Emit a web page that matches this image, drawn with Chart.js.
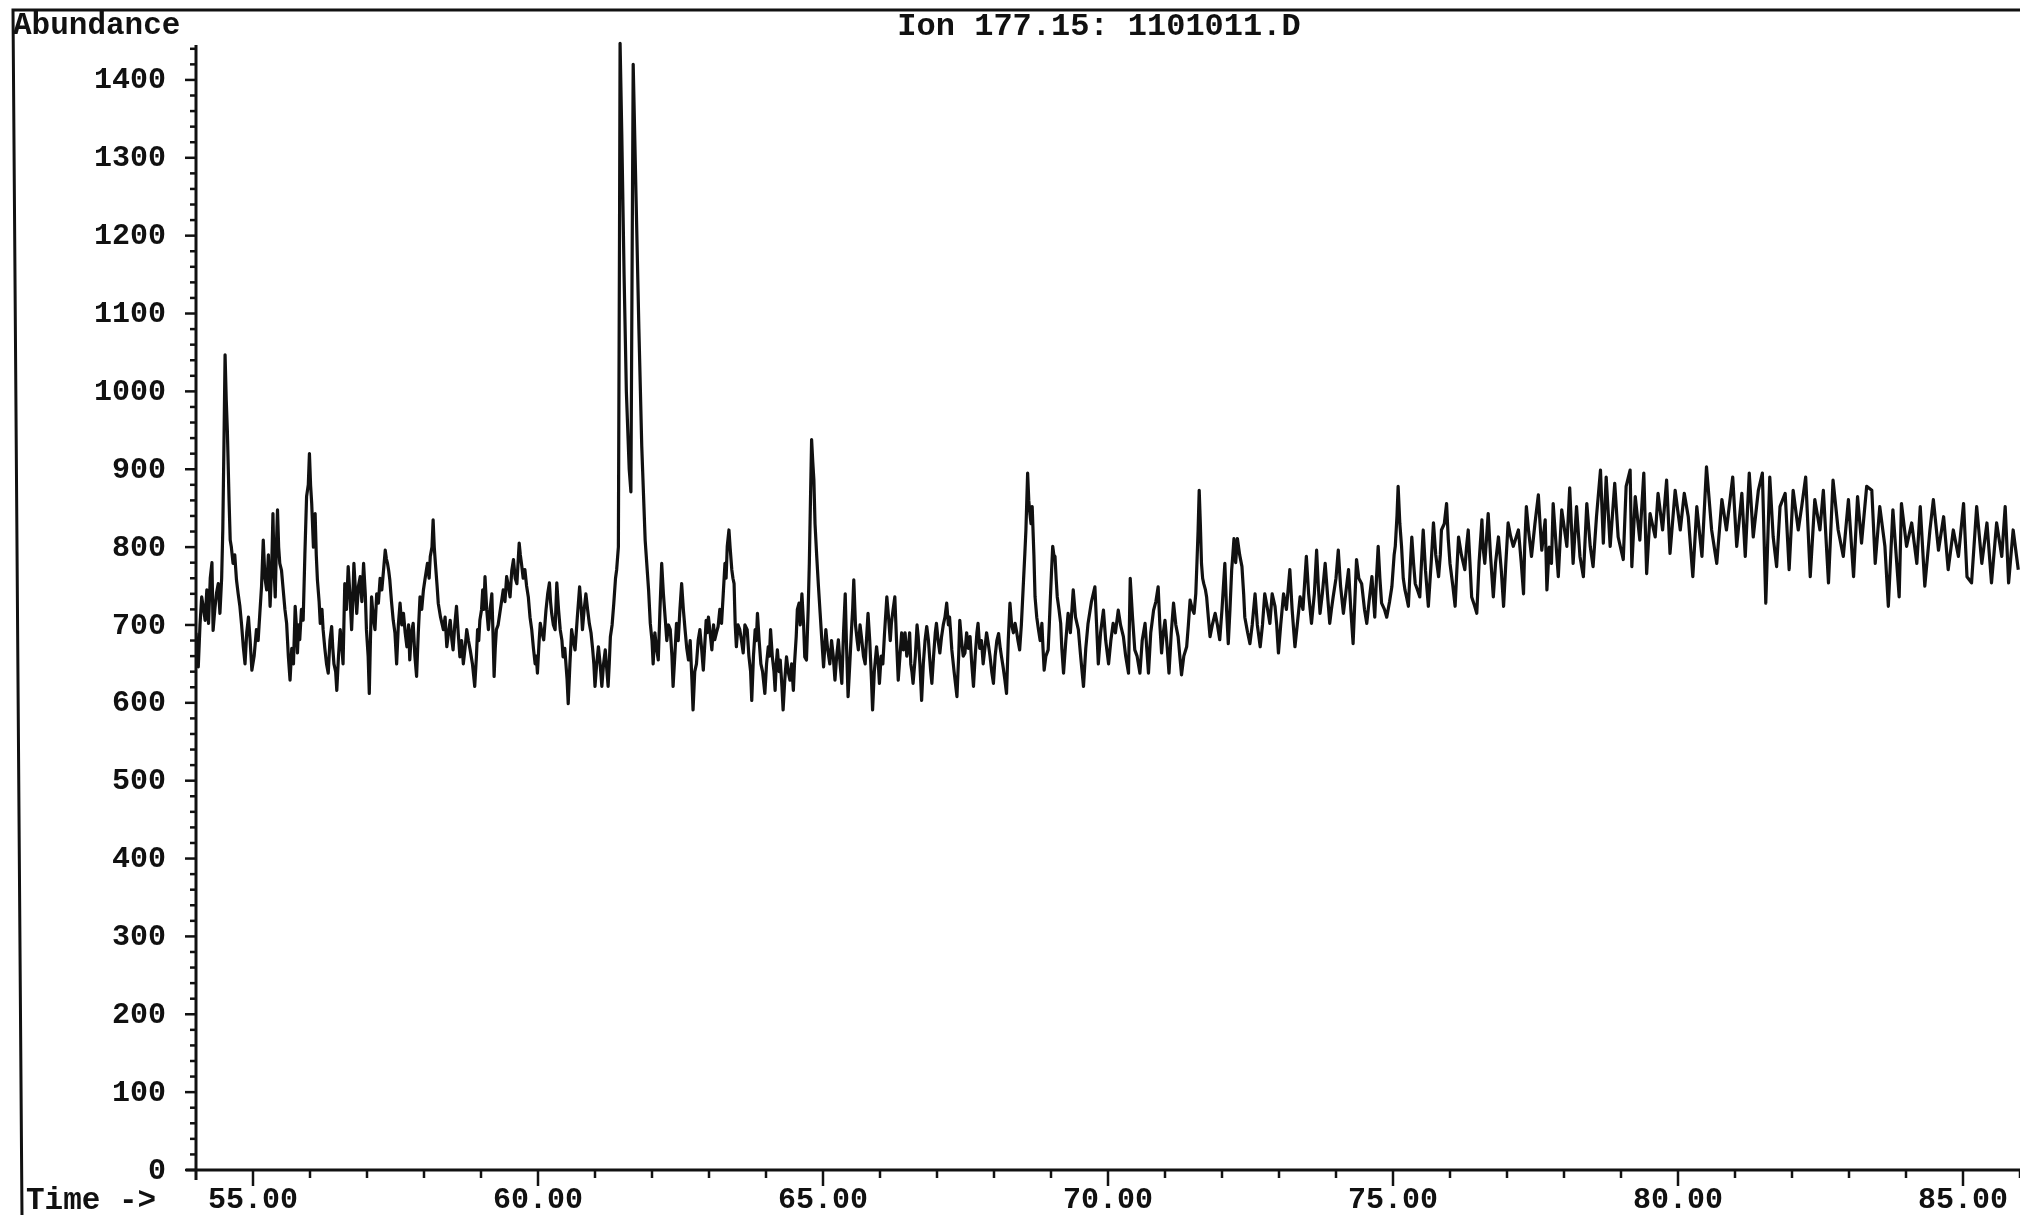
<!DOCTYPE html>
<html>
<head>
<meta charset="utf-8">
<script src="https://cdn.jsdelivr.net/npm/chart.js@4.4.1/dist/chart.umd.min.js"></script>
<style>
  html, body { margin: 0; padding: 0; background: #ffffff; }
  #wrap { width: 2020px; height: 1215px; position: relative; }
</style>
</head>
<body>
<div id="wrap"><canvas id="ionChart"></canvas></div>
<script>
// trace of ion 177.15, [time (min), abundance]
const trace54to58 = [
  [54.00,690],[54.04,646],[54.07,700],[54.10,736],[54.13,722],[54.16,706],[54.19,745],[54.22,702],[54.25,760],[54.28,780],
  [54.30,693],[54.33,720],[54.36,741],[54.39,753],[54.42,715],[54.45,760],[54.47,822],[54.49,930],[54.51,1047],[54.53,990],
  [54.55,950],[54.58,860],[54.60,809],[54.62,800],[54.65,779],[54.68,790],[54.71,758],[54.74,740],[54.77,724],[54.80,700],
  [54.83,672],[54.86,650],[54.89,690],[54.92,710],[54.95,680],[54.98,642],[55.02,660],[55.06,694],[55.09,680],[55.12,715],
  [55.15,750],[55.18,809],[55.21,760],[55.24,745],[55.27,790],[55.30,724],[55.33,780],[55.35,843],[55.37,770],[55.39,736],
  [55.41,800],[55.43,848],[55.45,800],[55.47,779],[55.50,770],[55.53,745],[55.56,720],[55.59,702],[55.62,660],[55.65,629],
  [55.68,670],[55.71,650],[55.74,724],[55.76,700],[55.78,664],[55.80,700],[55.82,681],[55.85,720],[55.88,706],[55.91,790],
  [55.94,865],[55.97,880],[55.99,920],[56.01,880],[56.03,856],[56.06,800],[56.09,843],[56.11,790],[56.13,758],[56.16,730],
  [56.18,702],[56.21,720],[56.23,694],[56.26,670],[56.29,650],[56.32,638],[56.35,680],[56.38,698],[56.40,670],[56.42,650],
  [56.45,640],[56.47,616],[56.50,660],[56.53,694],[56.56,670],[56.58,650],[56.61,753],[56.64,720],[56.67,775],[56.70,740],
  [56.73,694],[56.75,730],[56.77,779],[56.80,740],[56.82,715],[56.85,750],[56.88,762],[56.91,730],[56.94,779],[56.97,740],
  [56.99,694],[57.02,660],[57.04,612],[57.06,680],[57.08,736],[57.11,710],[57.14,694],[57.17,740],[57.20,728],[57.23,760],
  [57.26,745],[57.29,770],[57.32,796],[57.34,785],[57.36,779],[57.38,770],[57.40,758],[57.43,730],[57.46,706],[57.49,690],
  [57.52,650],[57.55,700],[57.58,728],[57.61,700],[57.64,715],[57.67,690],[57.70,672],[57.73,700],[57.75,655],[57.78,690],
  [57.81,702],[57.84,660],[57.87,634],[57.90,690],[57.93,736],[57.96,720],[57.99,745]
];
const trace58to62 = [
  [58.02,760],[58.06,779],[58.09,760],[58.11,788],[58.14,800],[58.16,835],[58.18,800],[58.20,779],[58.23,750],[58.25,728],
  [58.29,710],[58.34,694],[58.37,710],[58.40,672],[58.43,690],[58.46,706],[58.49,680],[58.51,668],[58.54,700],[58.57,724],
  [58.60,690],[58.63,659],[58.66,680],[58.69,650],[58.72,670],[58.75,694],[58.78,680],[58.81,668],[58.85,650],[58.89,621],
  [58.92,660],[58.94,694],[58.96,680],[58.98,706],[59.01,720],[59.03,745],[59.05,720],[59.07,762],[59.10,720],[59.13,694],
  [59.16,720],[59.19,740],[59.21,690],[59.23,634],[59.25,670],[59.27,694],[59.30,700],[59.33,715],[59.36,730],[59.39,745],
  [59.42,730],[59.45,762],[59.48,750],[59.51,736],[59.54,770],[59.57,784],[59.60,760],[59.63,753],[59.65,780],[59.67,805],
  [59.69,790],[59.71,779],[59.74,760],[59.77,771],[59.80,750],[59.83,736],[59.86,710],[59.89,694],[59.92,670],[59.95,650],
  [59.97,660],[59.99,638],[60.02,680],[60.04,702],[60.07,690],[60.10,681],[60.12,700],[60.14,719],[60.17,740],[60.20,754],
  [60.22,730],[60.24,715],[60.27,700],[60.30,694],[60.33,754],[60.36,720],[60.39,694],[60.42,680],[60.44,659],[60.47,670],
  [60.49,650],[60.51,630],[60.53,599],[60.56,650],[60.59,694],[60.62,680],[60.65,668],[60.69,710],[60.73,749],[60.76,720],
  [60.78,694],[60.81,720],[60.84,740],[60.87,720],[60.90,702],[60.93,690],[60.96,668],[60.98,650],[61.00,621],[61.03,650],
  [61.06,672],[61.09,650],[61.12,621],[61.15,650],[61.18,668],[61.21,640],[61.23,621],[61.25,650],[61.27,685],[61.30,700],
  [61.33,728],[61.36,760],[61.38,771],[61.41,800],[61.43,1200],[61.44,1447],[61.47,1330],[61.51,1150],[61.55,1000],[61.60,900],
  [61.63,871],[61.65,1150],[61.67,1420],[61.72,1250],[61.77,1080],[61.82,930],[61.88,809],[61.94,745],[61.97,702]
];
const trace62to66 = [
  [62.00,680],[62.02,650],[62.05,690],[62.08,670],[62.11,655],[62.14,720],[62.17,779],[62.20,740],[62.23,710],[62.26,680],
  [62.29,700],[62.32,694],[62.35,660],[62.37,621],[62.40,660],[62.43,702],[62.46,680],[62.49,720],[62.52,753],[62.55,720],
  [62.58,694],[62.61,670],[62.64,655],[62.67,680],[62.70,630],[62.72,591],[62.75,640],[62.78,650],[62.81,680],[62.84,694],
  [62.87,670],[62.90,642],[62.93,680],[62.95,706],[62.97,690],[62.99,710],[63.02,690],[63.05,668],[63.08,700],[63.10,681],
  [63.13,690],[63.16,698],[63.19,720],[63.22,702],[63.25,740],[63.28,779],[63.30,760],[63.32,801],[63.35,822],[63.37,800],
  [63.40,771],[63.42,760],[63.44,753],[63.46,700],[63.48,672],[63.51,700],[63.54,694],[63.57,680],[63.60,664],[63.63,700],
  [63.67,694],[63.70,660],[63.73,640],[63.75,603],[63.78,660],[63.81,694],[63.83,680],[63.85,715],[63.88,680],[63.91,650],
  [63.94,640],[63.98,612],[64.01,650],[64.04,672],[64.06,660],[64.08,694],[64.11,660],[64.14,640],[64.16,616],[64.18,650],
  [64.20,668],[64.23,640],[64.25,655],[64.28,620],[64.30,591],[64.33,630],[64.36,659],[64.39,640],[64.42,629],[64.45,650],
  [64.48,616],[64.50,650],[64.53,685],[64.55,720],[64.58,728],[64.60,700],[64.63,740],[64.66,700],[64.68,659],[64.71,655],
  [64.74,720],[64.76,779],[64.78,860],[64.80,938],[64.82,910],[64.84,886],[64.86,830],[64.89,788],[64.92,750],[64.95,715],
  [64.98,680],[65.01,646],[65.03,670],[65.05,694],[65.08,670],[65.12,650],[65.15,680],[65.18,660],[65.21,629],[65.24,660],
  [65.27,681],[65.30,650],[65.33,625],[65.36,690],[65.39,740],[65.41,680],[65.44,608],[65.47,650],[65.50,694],[65.52,720],
  [65.54,758],[65.57,700],[65.60,680],[65.62,668],[65.65,700],[65.68,681],[65.71,660],[65.74,650],[65.77,690],[65.79,715],
  [65.82,680],[65.85,630],[65.87,591],[65.90,640],[65.94,672],[65.97,650],[65.99,625]
];
const trace66to70 = [
  [66.02,660],[66.05,650],[66.08,690],[66.12,736],[66.15,710],[66.18,680],[66.20,702],[66.23,720],[66.26,736],[66.29,680],
  [66.32,629],[66.35,660],[66.38,690],[66.41,668],[66.44,690],[66.47,660],[66.50,672],[66.52,690],[66.54,650],[66.56,640],
  [66.58,625],[66.62,660],[66.65,700],[66.67,685],[66.70,650],[66.73,603],[66.76,650],[66.79,680],[66.82,698],[66.85,680],
  [66.87,659],[66.89,640],[66.91,625],[66.94,660],[66.97,690],[66.99,702],[67.02,680],[67.05,664],[67.08,685],[67.11,700],
  [67.14,710],[67.17,728],[67.20,700],[67.22,710],[67.24,690],[67.26,668],[67.30,640],[67.35,608],[67.38,660],[67.40,706],
  [67.43,680],[67.46,660],[67.49,664],[67.52,690],[67.55,670],[67.58,685],[67.61,650],[67.64,621],[67.67,660],[67.70,690],
  [67.72,702],[67.75,670],[67.78,680],[67.81,650],[67.84,670],[67.87,690],[67.90,676],[67.93,660],[67.96,640],[67.99,625],
  [68.02,660],[68.05,680],[68.08,689],[68.11,670],[68.13,660],[68.16,646],[68.19,630],[68.22,612],[68.25,680],[68.28,728],
  [68.31,700],[68.34,690],[68.37,702],[68.40,690],[68.42,680],[68.45,668],[68.48,700],[68.51,745],[68.54,790],[68.56,822],
  [68.59,895],[68.61,860],[68.63,843],[68.65,830],[68.67,852],[68.70,790],[68.72,736],[68.75,710],[68.78,694],[68.81,680],
  [68.84,702],[68.86,670],[68.88,642],[68.91,660],[68.95,668],[68.97,700],[68.99,736],[69.01,770],[69.03,801],[69.05,790],
  [69.07,788],[69.09,760],[69.11,736],[69.14,720],[69.17,702],[69.19,670],[69.22,638],[69.26,680],[69.30,715],[69.34,690],
  [69.39,745],[69.43,710],[69.48,694],[69.52,660],[69.57,621],[69.61,670],[69.65,702],[69.71,730],[69.77,749],[69.80,700],
  [69.83,650],[69.87,690],[69.92,719],[69.96,680]
];
const trace70to74 = [
  [70.01,650],[70.05,680],[70.09,702],[70.13,690],[70.18,719],[70.22,700],[70.27,685],[70.31,660],[70.36,638],[70.39,760],
  [70.43,710],[70.47,668],[70.51,660],[70.56,638],[70.60,680],[70.65,702],[70.68,670],[70.71,638],[70.75,690],[70.80,719],
  [70.84,730],[70.88,749],[70.91,700],[70.94,664],[70.97,690],[71.00,706],[71.04,670],[71.07,638],[71.11,690],[71.15,728],
  [71.19,700],[71.23,685],[71.26,660],[71.29,636],[71.33,660],[71.38,672],[71.41,700],[71.44,732],[71.48,720],[71.51,715],
  [71.54,740],[71.56,779],[71.58,820],[71.60,873],[71.62,830],[71.64,779],[71.66,760],[71.68,753],[71.71,745],[71.73,736],
  [71.76,710],[71.79,685],[71.83,700],[71.88,715],[71.92,700],[71.96,681],[72.00,720],[72.05,779],[72.08,720],[72.11,676],
  [72.14,720],[72.17,771],[72.19,790],[72.21,811],[72.24,780],[72.27,811],[72.31,790],[72.35,775],[72.38,740],[72.40,710],
  [72.45,690],[72.49,676],[72.53,700],[72.58,740],[72.62,700],[72.67,672],[72.71,700],[72.75,740],[72.80,720],[72.84,702],
  [72.88,740],[72.93,724],[72.96,700],[72.99,664],[73.03,700],[73.08,740],[73.13,720],[73.19,771],[73.23,720],[73.28,672],
  [73.32,700],[73.37,736],[73.42,720],[73.48,788],[73.52,740],[73.57,702],[73.62,740],[73.66,796],[73.69,750],[73.72,715],
  [73.76,740],[73.81,779],[73.85,740],[73.89,702],[73.92,720],[73.95,736]
];
const trace74to78 = [
  [74.00,760],[74.04,796],[74.08,750],[74.13,715],[74.17,740],[74.22,771],[74.26,720],[74.30,676],[74.33,730],[74.36,784],
  [74.40,760],[74.45,753],[74.50,720],[74.54,702],[74.58,730],[74.63,762],[74.68,710],[74.71,760],[74.74,801],[74.77,760],
  [74.80,728],[74.85,720],[74.89,710],[74.94,730],[74.98,749],[75.02,790],[75.04,801],[75.07,840],[75.09,878],[75.12,830],
  [75.15,801],[75.18,760],[75.21,745],[75.24,735],[75.27,724],[75.30,770],[75.33,813],[75.36,780],[75.39,753],[75.43,745],
  [75.47,736],[75.50,780],[75.53,822],[75.57,770],[75.62,724],[75.67,780],[75.71,831],[75.75,790],[75.80,762],[75.83,790],
  [75.85,822],[75.90,830],[75.94,856],[75.97,810],[76.00,779],[76.05,750],[76.09,724],[76.12,770],[76.15,813],[76.20,790],
  [76.26,771],[76.29,800],[76.32,822],[76.35,780],[76.38,736],[76.43,725],[76.47,715],[76.51,780],[76.56,835],[76.58,800],
  [76.61,779],[76.64,810],[76.67,843],[76.71,790],[76.76,736],[76.80,780],[76.85,813],[76.90,770],[76.94,724],[76.98,780],
  [77.02,831],[77.06,815],[77.11,801],[77.15,810],[77.20,822],[77.25,780],[77.29,740],[77.31,800],[77.34,852],[77.38,820],
  [77.43,788],[77.49,830],[77.55,867],[77.58,830],[77.61,796],[77.64,815],[77.67,835],[77.70,745],[77.74,800],[77.78,779],
  [77.81,856],[77.90,762],[77.96,848]
];
const trace78to82 = [
  [78.05,801],[78.10,876],[78.16,779],[78.22,852],[78.28,788],[78.34,762],[78.40,856],[78.46,801],[78.51,775],[78.57,839],
  [78.64,899],[78.69,805],[78.74,890],[78.81,801],[78.89,882],[78.95,813],[79.04,784],[79.09,878],[79.16,899],[79.19,775],
  [79.25,865],[79.33,809],[79.40,895],[79.45,766],[79.51,843],[79.60,813],[79.65,869],[79.73,822],[79.80,886],[79.86,792],
  [79.95,873],[80.04,822],[80.11,869],[80.18,839],[80.26,762],[80.33,852],[80.42,788],[80.50,903],[80.59,822],[80.68,779],
  [80.77,861],[80.85,822],[80.96,890],[81.03,801],[81.12,869],[81.18,788],[81.25,895],[81.32,813],[81.41,873],[81.48,895],
  [81.54,728],[81.61,890],[81.67,813],[81.73,775],[81.79,852],[81.88,869],[81.95,771]
];
const trace82to86 = [
  [82.02,873],[82.11,822],[82.17,852],[82.24,890],[82.32,762],[82.40,861],[82.49,822],[82.55,873],[82.64,754],[82.72,886],
  [82.81,822],[82.90,788],[82.99,861],[83.08,762],[83.15,865],[83.22,805],[83.31,878],[83.40,873],[83.46,779],[83.54,852],
  [83.63,801],[83.69,724],[83.77,848],[83.88,736],[83.92,856],[84.01,801],[84.10,831],[84.19,779],[84.25,852],[84.33,750],
  [84.42,822],[84.48,861],[84.57,796],[84.66,839],[84.74,771],[84.83,822],[84.92,788],[85.01,856],[85.07,762],[85.15,754],
  [85.24,852],[85.33,779],[85.42,831],[85.50,754],[85.59,831],[85.68,788],[85.74,852],[85.80,754],[85.88,822],[85.97,771]
];

const xTickValues = [55, 60, 65, 70, 75, 80, 85];
const xTickLabels = ['55.00', '60.00', '65.00', '70.00', '75.00', '80.00', '85.00'];
const yTickValues = [0, 100, 200, 300, 400, 500, 600, 700, 800, 900, 1000, 1100, 1200, 1300, 1400];

const TITLE = 'Ion 177.15: 1101011.D';
const INK = '#111111';
const MONO = '"Liberation Mono", "DejaVu Sans Mono", monospace';
const X_MIN = 54, X_MAX = 86;
const Y_AXIS_TOP = 1445;

const tracePoints = [].concat(trace54to58, trace58to62, trace62to66, trace66to70,
  trace70to74, trace74to78, trace78to82, trace82to86).map(p => ({ x: p[0], y: p[1] }));

// draws the frame, axes, ticks and all labels the way the printout has them
const printoutAxes = {
  id: 'printoutAxes',
  afterDraw(chart) {
    const { ctx, scales: { x, y } } = chart;
    const axisX = x.getPixelForValue(X_MIN);
    const axisY = y.getPixelForValue(0);
    const seg = (x1, y1, x2, y2) => { ctx.beginPath(); ctx.moveTo(x1, y1); ctx.lineTo(x2, y2); ctx.stroke(); };
    ctx.save();
    ctx.strokeStyle = INK;
    ctx.fillStyle = INK;
    ctx.lineCap = 'butt';

    // outer frame (left and top)
    ctx.lineWidth = 3;
    ctx.beginPath();
    ctx.moveTo(22, 1215);
    ctx.lineTo(13, 10);
    ctx.lineTo(chart.width, 10);
    ctx.stroke();

    // axis lines
    seg(axisX, y.getPixelForValue(Y_AXIS_TOP), axisX, axisY + 10);
    seg(axisX - 10, axisY, chart.width, axisY);

    // y ticks: major each 100, minor each 20
    ctx.lineWidth = 2.5;
    for (let v = 0; v <= Y_AXIS_TOP; v += 20) {
      const py = y.getPixelForValue(v);
      const len = v % 100 === 0 ? 11 : 6;
      seg(axisX - len, py, axisX, py);
    }
    // x ticks: major each 5 min, minor each min
    for (let t = 55; t <= X_MAX; t += 1) {
      const px = x.getPixelForValue(t);
      const len = xTickValues.includes(t) ? 16 : 8;
      seg(px, axisY, px, axisY + len);
    }

    ctx.font = 'bold 30px ' + MONO;
    ctx.textBaseline = 'middle';
    ctx.textAlign = 'right';
    yTickValues.forEach(v => ctx.fillText(String(v), axisX - 30, y.getPixelForValue(v) + 1));
    ctx.textAlign = 'center';
    xTickValues.forEach((t, i) => ctx.fillText(xTickLabels[i], x.getPixelForValue(t), 1200));

    ctx.font = 'bold 31px ' + MONO;
    ctx.textAlign = 'left';
    ctx.fillText('Abundance', 13, 26);
    ctx.fillText('Time ->', 26, 1201);
    ctx.font = 'bold 32px ' + MONO;
    ctx.textAlign = 'center';
    ctx.fillText(TITLE, 1099, 27);
    ctx.restore();
  }
};

new Chart('ionChart', {
  type: 'line',
  data: {
    datasets: [{
      data: tracePoints,
      borderColor: INK,
      borderWidth: 3.2,
      pointRadius: 0,
      tension: 0,
      fill: false,
      borderJoinStyle: 'round'
    }]
  },
  options: {
    responsive: true,
    maintainAspectRatio: false,
    animation: false,
    devicePixelRatio: 1,
    layout: { padding: { left: 196, right: 0, top: 41, bottom: 45 } },
    plugins: { legend: { display: false }, tooltip: { enabled: false } },
    scales: {
      x: { type: 'linear', min: X_MIN, max: X_MAX, display: false },
      y: { min: 0, max: 1450, display: false }
    }
  },
  plugins: [printoutAxes]
});
</script>
</body>
</html>
